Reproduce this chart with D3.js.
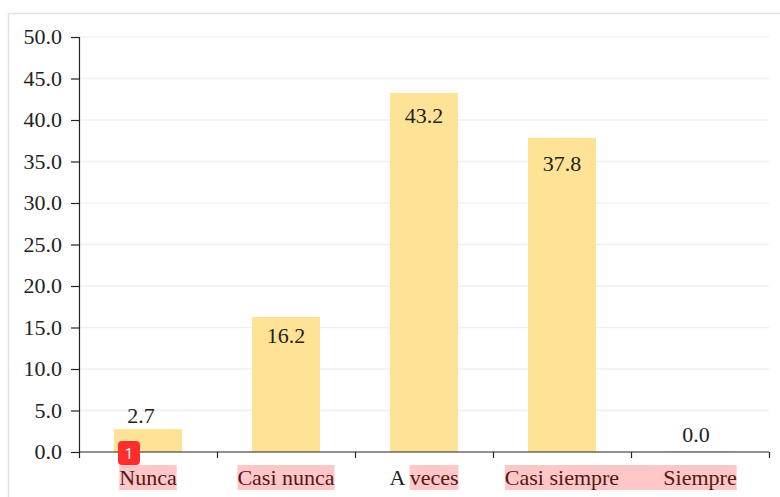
<!DOCTYPE html>
<html><head><meta charset="utf-8">
<script src="https://cdn.jsdelivr.net/npm/d3@7/dist/d3.min.js"></script>
<style>html,body{margin:0;padding:0;background:#fff}svg{display:block}text{font-family:"Liberation Serif",serif;fill:#222}</style>
</head><body><svg id="c" width="780" height="497"></svg>
<script>
const categories = ["Nunca","Casi nunca","A veces","Casi siempre","Siempre"];
const values = [2.7,16.2,43.2,37.8,0.0];
const yTicks = [0,5,10,15,20,25,30,35,40,45,50];
const badgeLabel = "1";

const svg = d3.select("#c");
const L=79,R=769,T=37,B=452;
const x = d3.scaleBand().domain(categories).range([L,R]).paddingInner(0).paddingOuter(0);
const y = d3.scaleLinear().domain([0,50]).range([B,T]);
const barW = 68;
const FS = 22;

svg.append("path").attr("d","M8.5,497V13.5H780").attr("fill","none").attr("stroke","#e2e2e2").attr("stroke-width",1.5);

svg.append("g").selectAll("line").data(yTicks.slice(1)).join("line")
  .attr("x1",L).attr("x2",R).attr("y1",d=>y(d)).attr("y2",d=>y(d))
  .attr("stroke","#f0f0f0").attr("stroke-width",1.4);

svg.append("g").selectAll("rect").data(categories).join("rect")
  .attr("x",(d)=>x(d)+x.bandwidth()/2-barW/2).attr("width",barW)
  .attr("y",(d,i)=>y(values[i])-0.5).attr("height",(d,i)=>B-y(values[i])+0.5)
  .attr("fill","#fee397");

const ya = d3.axisLeft(y).tickValues(yTicks).tickFormat(d3.format(".1f")).tickSize(8).tickPadding(9);
const yg = svg.append("g").attr("transform",`translate(${L},0)`).call(ya);
const xa = d3.axisBottom(x).tickValues([]).tickSize(0);
const xg = svg.append("g").attr("transform",`translate(0,${B})`).call(xa);
[yg,xg].forEach(g=>{g.selectAll("path,line").attr("stroke","#222").attr("stroke-width",1.2);
  g.selectAll("text").attr("font-size",FS).attr("fill","#222").style("font-family",'"Liberation Serif",serif');});
yg.selectAll("text").attr("dy","0.3em");
xg.select(".domain").attr("d",`M${L},0H${R}`);
const edges = categories.map(d=>x(d)).concat([R]);
svg.append("g").selectAll("line").data(edges).join("line")
  .attr("x1",d=>d+0.5).attr("x2",d=>d+0.5).attr("y1",B).attr("y2",B+6).attr("stroke","#222").attr("stroke-width",1.2);

// value-label placement relative to bar top / band centre, as laid out in the reference
const labelDx = [-7,0,0,0,-4];
const labelDy = [-7,25,30,33,-10];
svg.append("g").selectAll("text").data(categories).join("text")
  .attr("x",(d,i)=>x(d)+x.bandwidth()/2+labelDx[i])
  .attr("y",(d,i)=>y(values[i])+labelDy[i])
  .attr("text-anchor","middle").attr("font-size",FS)
  .text((d,i)=>values[i].toFixed(1));

const cl = svg.append("g").selectAll("text").data(categories).join("text")
  .attr("x",d=>x(d)+x.bandwidth()/2).attr("y",B+33)
  .attr("text-anchor","middle").attr("font-size",FS).text(d=>d);

const HT=B+13,HH=25;
const spans=[];
cl.each(function(d){
  const n=this.getComputedTextLength(), s=this.getStartPositionOfChar(0).x;
  if(d==="A veces"){const k=d.indexOf("v");spans.push([this.getStartPositionOfChar(k).x,s+n]);}
  else spans.push([s,s+n]);
});
const merged=[spans[0],spans[1],spans[2],[spans[3][0],spans[4][1]]];
svg.append("g").selectAll("rect").data(merged).join("rect")
  .attr("x",d=>d[0]).attr("width",d=>d[1]-d[0]).attr("y",HT).attr("height",HH)
  .attr("fill","#ff0000").attr("fill-opacity",0.22);

const bx=x(categories[0])+x.bandwidth()/2-30;
const badge=svg.append("g").attr("transform",`translate(${bx},${B-11})`);
badge.append("rect").attr("width",22).attr("height",24).attr("rx",4).attr("fill","#ff2d2d");
badge.append("text").attr("x",11).attr("y",17.5).attr("text-anchor","middle")
  .attr("font-size",14).style("font-family","Roboto,sans-serif").style("fill","#fff").text(badgeLabel);
</script></body></html>
